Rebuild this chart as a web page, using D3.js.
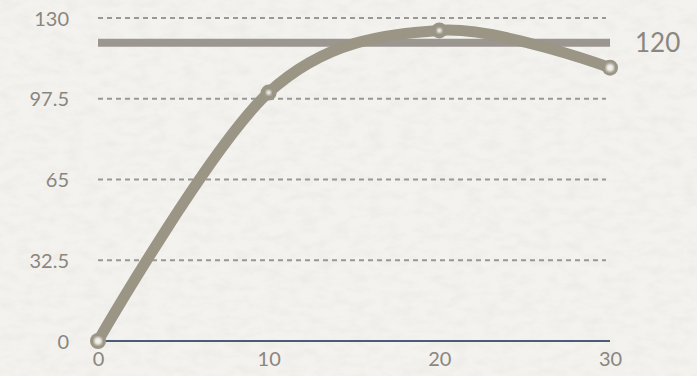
<!DOCTYPE html>
<html>
<head>
<meta charset="utf-8">
<script src="https://cdn.jsdelivr.net/npm/d3@7"></script>
<style>
  html, body { margin: 0; padding: 0; background: #f2f1ed; }
  svg { display: block; }
</style>
</head>
<body>
<script>
// Series data
const xValues = [0, 10, 20, 30];
const yValues = [0, 100, 125, 110];
// Axis ticks
const yTicks = [0, 32.5, 65, 97.5, 130];
const xTicks = [0, 10, 20, 30];
// Reference line
const plotLineValue = [120];

const W = 697, H = 376;
const svg = d3.select("body").append("svg").attr("width", W).attr("height", H);

// paper texture background
const defs = svg.append("defs");
const f = defs.append("filter").attr("id", "paper").attr("x", 0).attr("y", 0).attr("width", "100%").attr("height", "100%");
f.append("feTurbulence").attr("type", "fractalNoise").attr("baseFrequency", "0.06 0.12").attr("numOctaves", 3).attr("seed", 4).attr("result", "n");
f.append("feColorMatrix").attr("in", "n").attr("type", "matrix")
  .attr("values", "0 0 0 0 0.55  0 0 0 0 0.54  0 0 0 0 0.50  0 0 0 -0.9 0.55");
const blur = defs.append("filter").attr("id", "soft");
blur.append("feGaussianBlur").attr("stdDeviation", 0.8);
svg.append("rect").attr("width", W).attr("height", H).attr("fill", "#f3f2ee");
svg.append("rect").attr("width", W).attr("height", H).attr("filter", "url(#paper)").attr("opacity", 0.28);

const x = d3.scaleLinear().domain([0, 30]).range([98, 610]);
const y = d3.scaleLinear().domain([0, 130]).range([341, 18]);

const font = "Lato, 'Open Sans', sans-serif";
const txtColor = "#8a8680";

// grid lines
svg.append("g").selectAll("line").data(yTicks.filter(d => d > 0)).join("line")
  .attr("x1", x(0)).attr("x2", 606)
  .attr("y1", d => y(d)).attr("y2", d => y(d))
  .attr("stroke", "#9a9894").attr("stroke-width", 2)
  .attr("stroke-dasharray", "5,4");

// y axis labels
const yAxis = d3.axisLeft(y).tickValues(yTicks).tickSize(0).tickPadding(0)
  .tickFormat(d => d3.format("")(d));
const gy = svg.append("g").attr("transform", "translate(69,0)").call(yAxis);
gy.select(".domain").remove();
gy.selectAll("text").attr("fill", txtColor).style("font-family", font).style("font-size", "20px").attr("dy", "0.35em");

// x axis labels
const xAxis = d3.axisBottom(x).tickValues(xTicks).tickSize(0).tickPadding(0);
const gx = svg.append("g").attr("transform", "translate(0,351)").call(xAxis);
gx.select(".domain").remove();
gx.selectAll("text").attr("fill", txtColor).style("font-family", font).style("font-size", "20px").attr("dy", "0.75em");

// baseline
svg.append("line").attr("x1", x(0)).attr("x2", x(30)).attr("y1", y(0)).attr("y2", y(0))
  .attr("stroke", "#4c5b78").attr("stroke-width", 2);

// plot line at 120
svg.append("g").selectAll("line").data(plotLineValue).join("line")
  .attr("x1", x(0)).attr("x2", x(30)).attr("y1", d => y(d)).attr("y2", d => y(d))
  .attr("stroke", "#9c9690").attr("stroke-width", 8);
svg.append("g").selectAll("text").data(plotLineValue).join("text")
  .attr("x", 635).attr("y", d => y(d)).attr("dy", "0.35em")
  .attr("fill", txtColor).style("font-family", font).style("font-size", "26px")
  .text(d => d);

// series line
const pts = xValues.map((v, i) => [v, yValues[i]]);
const lineColor = "#9a9585";
const line = d3.line().x(d => x(d[0])).y(d => y(d[1])).curve(d3.curveCardinal.tension(0));
svg.append("path").datum(pts).attr("d", line)
  .attr("fill", "none").attr("stroke", lineColor).attr("stroke-width", 11)
  .attr("stroke-linecap", "round").attr("stroke-linejoin", "round");

// markers
const mk = svg.append("g").selectAll("g").data(pts).join("g")
  .attr("transform", d => `translate(${x(d[0])},${y(d[1])})`);
mk.append("circle").attr("r", 8).attr("fill", lineColor);
mk.append("circle").attr("r", (d, i) => (i === 0 || i === pts.length - 1) ? 4 : 2.5)
  .attr("fill", "#f1efe9").attr("filter", "url(#soft)");
</script>
</body>
</html>
